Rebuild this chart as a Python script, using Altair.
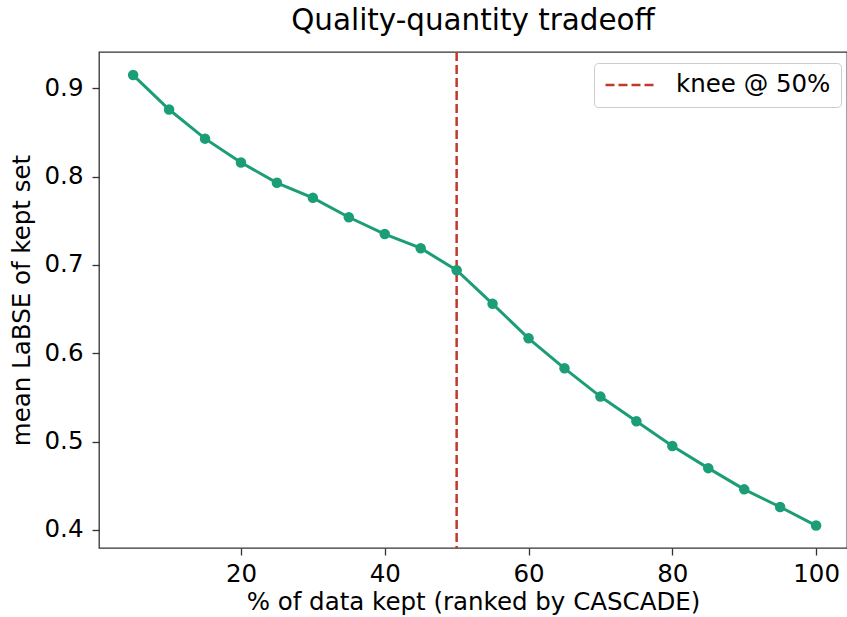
import altair as alt
import pandas as pd

pct_kept = [5, 10, 15, 20, 25, 30, 35, 40, 45, 50, 55, 60, 65, 70, 75, 80, 85, 90, 95, 100]
mean_labse = [0.915, 0.876, 0.843, 0.816, 0.793, 0.776, 0.754, 0.735, 0.719, 0.694,
              0.656, 0.617, 0.583, 0.551, 0.523, 0.495, 0.470, 0.446, 0.426, 0.405]
knee_x = [50]
knee_label = ["knee @ 50%"]
x_ticks = [20, 40, 60, 80, 100]
y_ticks = [0.4, 0.5, 0.6, 0.7, 0.8, 0.9]

df = pd.DataFrame({"pct": pct_kept, "labse": mean_labse})
knee = pd.DataFrame({"pct": knee_x, "label": knee_label})

FONT = "DejaVu Sans"
GREEN = "#1b9e77"
RED = "#c0392b"
FS = 24.5

xs = alt.Scale(domain=[0.25, 104.3], nice=False, zero=False)
ys = alt.Scale(domain=[0.3796, 0.9411], nice=False, zero=False)

xaxis = alt.Axis(values=x_ticks, title="% of data kept (ranked by CASCADE)", grid=False,
                 format="d", labelPadding=7, titlePadding=5)
yaxis = alt.Axis(values=y_ticks, title="mean LaBSE of kept set", grid=False,
                 format=".1f", labelPadding=9, titlePadding=10)

line = alt.Chart(df).mark_line(color=GREEN, strokeWidth=3).encode(
    x=alt.X("pct:Q", scale=xs, axis=xaxis),
    y=alt.Y("labse:Q", scale=ys, axis=yaxis),
)
pts = alt.Chart(df).mark_circle(color=GREEN, size=110, opacity=1).encode(
    x=alt.X("pct:Q", scale=xs),
    y=alt.Y("labse:Q", scale=ys),
)
rule = alt.Chart(knee).mark_rule(strokeDash=[9, 4], strokeWidth=2.5).encode(
    x=alt.X("pct:Q", scale=xs),
    color=alt.Color("label:N", scale=alt.Scale(range=[RED]),
                    legend=alt.Legend(title=None, orient="none", legendX=495, legendY=11,
                                      symbolType="stroke", symbolSize=2401,
                                      symbolStrokeWidth=2.5, symbolDash=[9, 4],
                                      clipHeight=24,
                                      labelFontSize=FS, labelFont=FONT, labelColor="black",
                                      labelOffset=20, padding=10,
                                      strokeColor="#cccccc", fillColor="white",
                                      cornerRadius=4)),
)

chart = (rule + line + pts).properties(
    width=748, height=496,
    title=alt.Title("Quality-quantity tradeoff", fontSize=29.4, font=FONT,
                    fontWeight="normal", color="black", anchor="middle", offset=14),
    autosize=alt.AutoSizeParams(type="none"),
    padding={"left": 99, "top": 52, "right": 0, "bottom": 69},
).configure_view(stroke="#333333", strokeWidth=1.3).configure_axis(
    labelFont=FONT, titleFont=FONT, labelFontSize=FS, titleFontSize=FS,
    labelColor="black", titleColor="black", titleFontWeight="normal",
    domain=False, tickColor="#333333", tickWidth=1.3, tickSize=7,
)

chart.save("out.html", embed_options={"renderer": "svg", "actions": False})
